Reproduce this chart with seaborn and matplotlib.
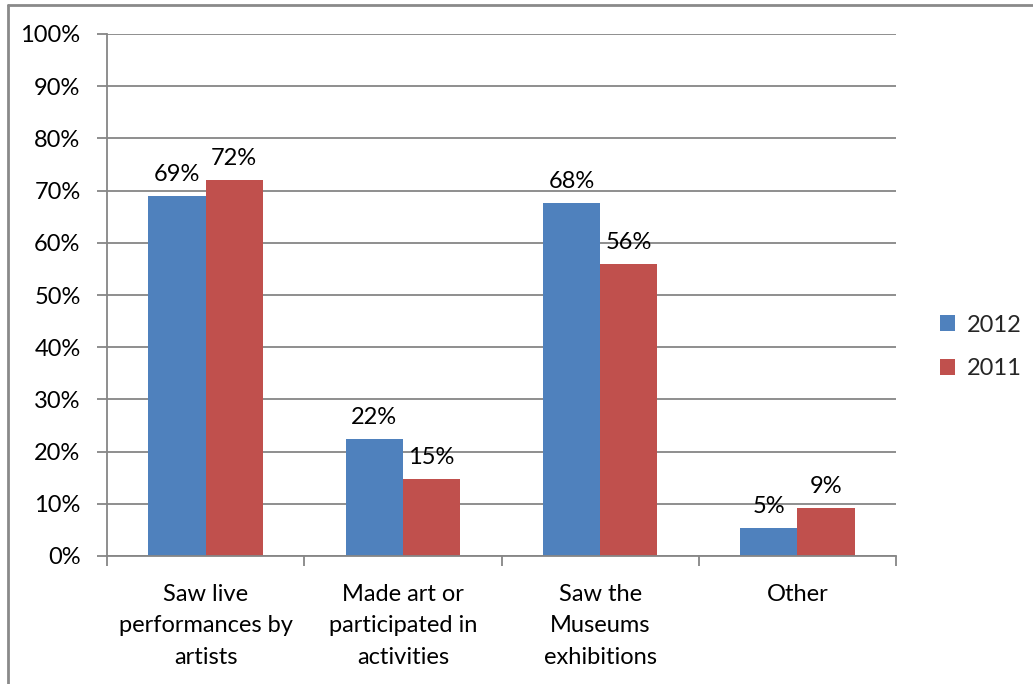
import matplotlib
matplotlib.use("Agg")
import matplotlib.pyplot as plt
from matplotlib.lines import Line2D
from matplotlib.patches import Patch
import seaborn as sns
import pandas as pd
import numpy as np

categories = ["Saw live\nperformances by\nartists",
              "Made art or\nparticipated in\nactivities",
              "Saw the\nMuseums\nexhibitions",
              "Other"]
series_names = ["2012", "2011"]
values_2012 = [69.0, 22.4, 67.6, 5.4]
values_2011 = [72.0, 14.8, 56.0, 9.2]
colors = ["#4F81BD", "#C0504D"]
yticks = [0, 10, 20, 30, 40, 50, 60, 70, 80, 90, 100]

sns.set_theme(style="white")
plt.rcParams['font.family'] = ['Lato', 'DejaVu Sans']

FS = 17

df = pd.DataFrame({
    "category": categories * 2,
    "year": [series_names[0]] * 4 + [series_names[1]] * 4,
    "value": values_2012 + values_2011,
})

fig = plt.figure(figsize=(10.33, 6.84), dpi=100)
ax = fig.add_axes([107/1033, 1 - 556/684, (896 - 107)/1033, (556 - 34)/684])

sns.barplot(data=df, x="category", y="value", hue="year", hue_order=series_names,
            palette=colors, width=0.58, saturation=1, ax=ax, legend=False,
            edgecolor="none", linewidth=0, errorbar=None)

grid_c = "#868686"
ax.set_ylim(0, 100)
ax.set_xlim(-0.5, 3.5)
ax.set_yticks(yticks)
ax.set_yticklabels([f"{t}%" for t in yticks], fontsize=FS, color="black")
ax.yaxis.grid(True, color=grid_c, linewidth=1.3)
ax.set_axisbelow(True)
ax.set_xlabel("")
ax.set_ylabel("")
ax.tick_params(axis="y", length=7, width=1.3, color=grid_c, pad=12, left=True)
ax.tick_params(axis="x", which="major", length=0, pad=20, labelsize=FS, labelcolor="black")
ax.set_xticks(np.arange(-0.5, 4.0, 1.0), minor=True)
ax.tick_params(axis="x", which="minor", length=7, width=1.3, color=grid_c, bottom=True)
for lab in ax.get_xticklabels():
    lab.set_linespacing(1.62)
for s in ["top", "right"]:
    ax.spines[s].set_visible(False)
for s in ["left", "bottom"]:
    ax.spines[s].set_color(grid_c)
    ax.spines[s].set_linewidth(1.3)

for cont in ax.containers:
    ax.bar_label(cont, labels=[f"{round(v)}%" for v in cont.datavalues],
                 fontsize=FS, color="black", padding=8)

handles = [Patch(facecolor=c, edgecolor="none") for c in colors]
fig.legend(handles, series_names, loc="center left", bbox_to_anchor=(0.910, 0.493),
           frameon=False, fontsize=FS, handlelength=0.65, handleheight=0.65,
           handletextpad=0.5, labelspacing=0.95, borderaxespad=0, borderpad=0)

# outer chart frame (left and top edges visible)
fig.add_artist(Line2D([8/1033, 8/1033], [0, 1 - 5/684], transform=fig.transFigure,
                      color="#8a8a8a", linewidth=2))
fig.add_artist(Line2D([8/1033, 1], [1 - 5/684, 1 - 5/684], transform=fig.transFigure,
                      color="#8a8a8a", linewidth=2))

fig.savefig("out.png", dpi=100)
